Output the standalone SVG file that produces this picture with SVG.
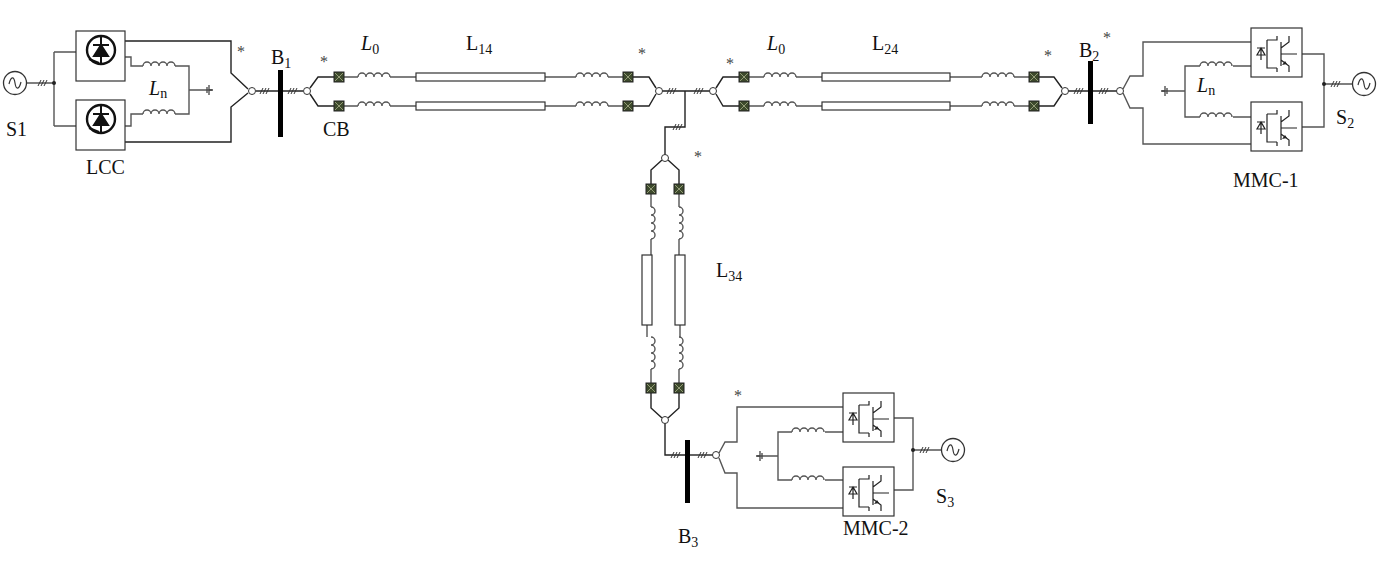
<svg xmlns="http://www.w3.org/2000/svg" width="1382" height="585" viewBox="0 0 1382 585">
<style>
.w{fill:none;stroke:#555;stroke-width:1.4}
.k{fill:none;stroke:#222;stroke-width:1.4}
.box{fill:#fff;stroke:#333;stroke-width:1.2}
.bus{fill:#000}
.node{fill:#fff;stroke:#333;stroke-width:1}
.t{font-family:"Liberation Serif",serif;font-size:20px;fill:#111}
.s{font-size:14px}
.ast{font-family:"Liberation Serif",serif;font-size:16px;fill:#444}
</style>
<defs>
<path id="ind" class="w" d="M0,0 a4,4 0 0 1 8,0 a4,4 0 0 1 8,0 a4,4 0 0 1 8,0 a4,4 0 0 1 8,0"/>
<g id="cb"><rect x="-5" y="-5" width="10" height="10" fill="#3d4a2c" stroke="#222"/><path d="M-4,-4L4,4M4,-4L-4,4" stroke="#aab08a" stroke-width="0.8"/></g>
<path id="hash" d="M-5,3L-2,-3M-2,3L1,-3M1,3L4,-3" stroke="#333" stroke-width="1"/>
<g id="gnd"><path d="M0,0h-4M-4,-5v10M-6,-3v6" stroke="#444" stroke-width="1.3" fill="none"/></g>
<g id="lcc"><rect class="box" x="0" y="0" width="49" height="50"/><circle cx="25" cy="19" r="14" fill="none" stroke="#111" stroke-width="2.4"/><path d="M25,5v28M17,14h16M25,14l-7,11h14z" stroke="#111" stroke-width="2" fill="#111"/><path d="M13,28l10,4" stroke="#111" stroke-width="2"/></g>
<g id="mmc"><rect class="box" x="0" y="0" width="51" height="49"/>
<path d="M16,12V40H26M16,12H26V8M26,40V44M10,20v12M6,20h8M10,20l-4,7h8z" stroke="#222" stroke-width="1.2" fill="none"/>
<path d="M30,14V38M30,20l8,-6V8M30,32l8,6V44M30,26h16" stroke="#222" stroke-width="1.2" fill="none"/>
<path d="M36,36l-5,1l3,-4z" fill="#222"/></g>
<g id="src"><circle r="11.5" fill="#fff" stroke="#333" stroke-width="1.3"/><path d="M-6,1c2,-8 5,-8 6,-1s4,7 6,-1" stroke="#333" fill="none" stroke-width="1.2"/></g>
</defs>

<g id="connectors">
<path class="w" d="M27,83H54M54,52V126M54,52H76M54,126H76"/>
<use href="#hash" x="43" y="83"/>
<circle cx="54" cy="83" r="2" fill="#222"/>
<path class="k" d="M125,41H231V73L248,89M125,142H231V107L248,93"/>
<path class="w" d="M125,57H131V66H143M175,66H189V114H175M143,114H131V126H125M189,90H212"/>
<use href="#ind" x="143" y="66"/><use href="#ind" x="143" y="114"/>
<use href="#gnd" x="213" y="90"/>
<path class="k" d="M256,91H303"/>
<use href="#hash" x="265" y="91"/><use href="#hash" x="293" y="91"/>
<path class="k" d="M310,88L318,77H334M310,94L318,106H334"/>
<path class="w" d="M344,77H358M390,77H416M545,77H576M608,77H623M344,106H358M390,106H416M545,106H576M608,106H623"/>
<path class="k" d="M633,77H649L656,88M633,106H649L656,94"/>
<use href="#ind" x="358" y="77"/><use href="#ind" x="358" y="106"/><use href="#ind" x="576" y="77"/><use href="#ind" x="576" y="106"/>
<path class="k" d="M662,91H710M685,91V127H665V155"/>
<use href="#hash" x="672" y="91"/><use href="#hash" x="699" y="91"/><use href="#hash" x="678" y="127"/>
<path class="k" d="M716,88L723,77H739M716,94L723,106H739"/>
<path class="w" d="M749,77H764M796,77H822M950,77H982M1014,77H1029M749,106H764M796,106H822M950,106H982M1014,106H1029"/>
<path class="k" d="M1039,77H1054L1062,88M1039,106H1054L1062,94"/>
<use href="#ind" x="764" y="77"/><use href="#ind" x="764" y="106"/><use href="#ind" x="982" y="77"/><use href="#ind" x="982" y="106"/>
<path class="k" d="M1068,91H1117"/>
<use href="#hash" x="1079" y="91"/><use href="#hash" x="1104" y="91"/>
<path class="w" d="M1123,89L1130,76H1143V42H1251M1123,93L1130,108H1143V144H1251"/>
<path class="w" d="M1251,66H1233M1200,66H1185V117H1200M1233,117H1251M1185,91H1162"/>
<use href="#ind" x="1200" y="66"/><use href="#ind" x="1200" y="117"/>
<use href="#gnd" x="1161" y="91" transform="rotate(180 1161 91)"/>
<path class="w" d="M1302,54H1324V127H1302M1324,84H1352"/>
<circle cx="1324" cy="84" r="2" fill="#222"/>
<use href="#hash" x="1336" y="84"/>
<path class="k" d="M662,160L651,170V184M668,160L679,170V184"/>
<path class="w" d="M651,194V207M679,194V207M651,239V255M679,239V255M647,325V337M680,325V337M651,369V383M679,369V383"/>
<use href="#ind" x="651" y="207" transform="rotate(90 651 207)"/><use href="#ind" x="679" y="207" transform="rotate(90 679 207)"/>
<use href="#ind" x="651" y="337" transform="rotate(90 651 337)"/><use href="#ind" x="679" y="337" transform="rotate(90 679 337)"/>
<path class="k" d="M651,393V408L662,418M679,393V408L668,418M665,423V455H686"/>
<use href="#hash" x="676" y="455"/>
<path class="k" d="M688,455H713"/>
<use href="#hash" x="703" y="455"/>
<path class="w" d="M719,453L725,442H737V407H843M719,458L725,473H737V508H843"/>
<path class="w" d="M843,432H825M792,432H778V480H792M825,480H843M778,456H757"/>
<use href="#ind" x="792" y="432"/><use href="#ind" x="792" y="480"/>
<use href="#gnd" x="756" y="456" transform="rotate(180 756 456)"/>
<path class="w" d="M892,418H913V490H892M913,450H941"/>
<circle cx="913" cy="450" r="2" fill="#222"/>
<use href="#hash" x="925" y="450"/>
</g>

<g id="S1"><use href="#src" x="15" y="83"/><text class="t" x="6" y="136">S1</text></g>
<g id="LCC"><use href="#lcc" x="76" y="31"/><use href="#lcc" x="76" y="100"/><text class="t" x="86" y="174">LCC</text>
<text class="t" x="149" y="95"><tspan font-style="italic">L</tspan><tspan class="s" dy="3">n</tspan></text></g>
<g id="B1"><rect class="bus" x="278" y="70" width="5" height="67"/><circle class="node" cx="252" cy="91" r="3.5"/><circle class="node" cx="307" cy="91" r="3.5"/>
<text class="t" x="271" y="64">B<tspan class="s" dy="4">1</tspan></text></g>
<g id="L14"><rect class="box" x="416" y="73" width="129" height="8"/><rect class="box" x="416" y="102" width="129" height="8"/>
<use href="#cb" x="339" y="77"/><use href="#cb" x="339" y="106"/><use href="#cb" x="628" y="77"/><use href="#cb" x="628" y="106"/>
<circle class="node" cx="659" cy="91" r="3.5"/>
<text class="t" x="361" y="50"><tspan font-style="italic">L</tspan><tspan class="s" dy="4">0</tspan></text>
<text class="t" x="466" y="50">L<tspan class="s" dy="4">14</tspan></text>
<text class="t" x="323" y="136">CB</text></g>
<g id="L24"><rect class="box" x="822" y="73" width="128" height="8"/><rect class="box" x="822" y="102" width="128" height="8"/>
<use href="#cb" x="744" y="77"/><use href="#cb" x="744" y="106"/><use href="#cb" x="1034" y="77"/><use href="#cb" x="1034" y="106"/>
<circle class="node" cx="713" cy="91" r="3.5"/><circle class="node" cx="1065" cy="91" r="3.5"/>
<text class="t" x="767" y="50"><tspan font-style="italic">L</tspan><tspan class="s" dy="4">0</tspan></text>
<text class="t" x="872" y="50">L<tspan class="s" dy="4">24</tspan></text></g>
<g id="B2"><rect class="bus" x="1088" y="61" width="5" height="63"/><circle class="node" cx="1120" cy="91" r="3.5"/>
<text class="t" x="1079" y="57">B<tspan class="s" dy="4">2</tspan></text></g>
<g id="MMC1"><use href="#mmc" x="1251" y="28"/><use href="#mmc" x="1251" y="102"/>
<text class="t" x="1197" y="92"><tspan font-style="italic">L</tspan><tspan class="s" dy="3">n</tspan></text>
<text class="t" x="1233" y="187">MMC-1</text></g>
<g id="S2"><use href="#src" x="1364" y="84"/><text class="t" x="1336" y="124">S<tspan class="s" dy="4">2</tspan></text></g>
<g id="L34"><use href="#cb" x="651" y="189"/><use href="#cb" x="679" y="189"/><use href="#cb" x="651" y="388"/><use href="#cb" x="679" y="388"/>
<rect class="box" x="642" y="255" width="10" height="70"/><rect class="box" x="675" y="255" width="10" height="70"/>
<circle class="node" cx="665" cy="158" r="3.5"/><circle class="node" cx="665" cy="420" r="3.5"/>
<text class="t" x="716" y="277">L<tspan class="s" dy="4">34</tspan></text></g>
<g id="B3"><rect class="bus" x="685" y="440" width="5" height="63"/><circle class="node" cx="716" cy="455" r="3.5"/>
<text class="t" x="678" y="543">B<tspan class="s" dy="4">3</tspan></text></g>
<g id="MMC2"><use href="#mmc" x="843" y="393"/><use href="#mmc" x="843" y="467"/>
<text class="t" x="843" y="535">MMC-2</text></g>
<g id="S3"><use href="#src" x="953" y="450"/><text class="t" x="936" y="503">S<tspan class="s" dy="4">3</tspan></text></g>
<g id="asterisks" class="ast">
<text x="237" y="57">*</text><text x="320" y="67">*</text><text x="638" y="59">*</text><text x="726" y="69">*</text>
<text x="1044" y="61">*</text><text x="1103" y="43">*</text><text x="694" y="162">*</text><text x="734" y="401">*</text>
</g>
</svg>
